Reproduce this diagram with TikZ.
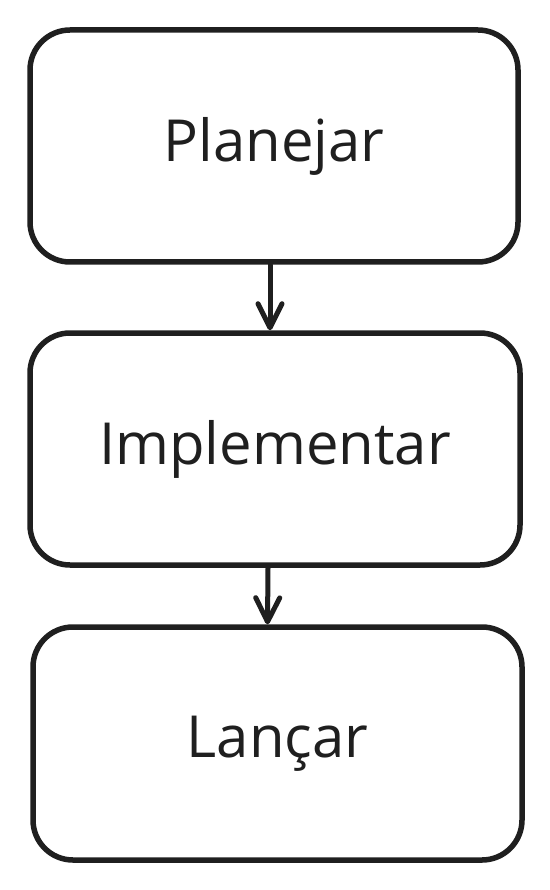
\documentclass[tikz,border=0pt]{standalone}
\usepackage{fontspec}
\setmainfont{Open Sans}
\usetikzlibrary{arrows.meta}
\begin{document}
\begin{tikzpicture}[x=1pt,y=-1pt,
  stagebox/.style={draw=black!88,line width=5.5pt,rounded corners=40pt,minimum width=488pt,minimum height=232pt,inner sep=0pt,font=\fontsize{58}{64}\selectfont,text=black!88},
  flowarrow/.style={draw=black!88,line width=5pt,line cap=round,-{Straight Barb[length=24pt,width=24pt,line cap=round,line join=round]}}]
\useasboundingbox (0,0) rectangle (549,890);
\node[stagebox] (p) at (274,146) {Planejar};
\node[stagebox,minimum width=490pt] (i) at (275,449) {Implementar};
\node[stagebox,minimum width=489pt,minimum height=233pt] (l) at (277.5,743.5) {Lançar};
\draw[flowarrow] ([xshift=-4pt]p.south) -- ([xshift=-5pt]i.north);
\draw[flowarrow] ([xshift=-7pt]i.south) -- ([xshift=-10pt]l.north);
\end{tikzpicture}
\end{document}
